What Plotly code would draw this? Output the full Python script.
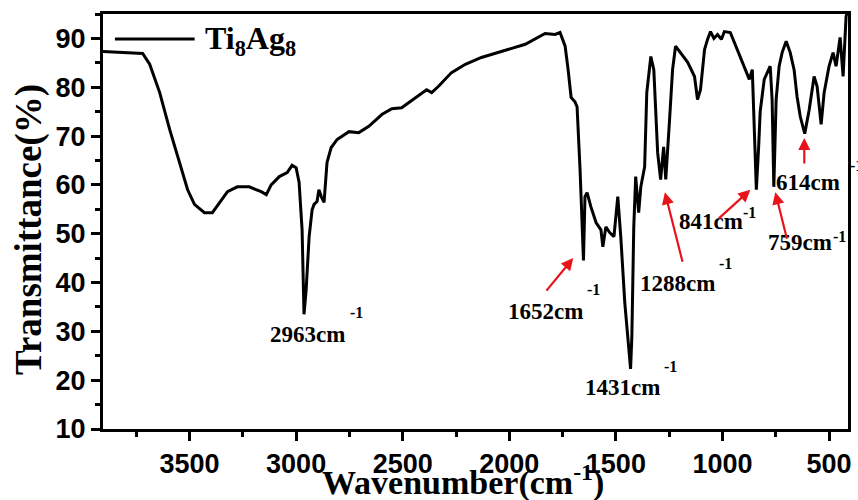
import plotly.graph_objects as go

# FTIR spectrum of Ti8Ag8
wavenumber = [3906, 3850, 3780, 3720, 3687, 3640, 3593, 3547, 3509, 3477, 3430, 3393, 3360, 3322,
              3276, 3220, 3164, 3140, 3117, 3079, 3042, 3019, 3000, 2986, 2972, 2963, 2953, 2939,
              2925, 2916, 2902, 2893, 2882, 2869, 2855, 2836, 2808, 2752, 2706, 2659, 2598, 2551,
              2505, 2439, 2388, 2364, 2332, 2271, 2206, 2131, 2037, 1925, 1832, 1785, 1762, 1738,
              1724, 1710, 1692, 1682, 1668, 1652, 1645, 1635, 1617, 1593, 1570, 1561, 1547, 1528,
              1509, 1491, 1477, 1458, 1431, 1425, 1416, 1407, 1393, 1383, 1365, 1355, 1336, 1322,
              1304, 1290, 1276, 1266, 1248, 1234, 1220, 1196, 1163, 1131, 1117, 1103, 1084, 1070,
              1056, 1040, 1023, 1005, 991, 963, 930, 897, 874, 860, 850, 841, 830, 823, 804, 790,
              776, 767, 759, 748, 734, 720, 701, 682, 664, 650, 635, 614, 593, 570, 556, 537, 523,
              500, 481, 467, 448, 434, 420, 411]
transmittance = [87.3, 87.2, 87.0, 86.9, 84.7, 78.9, 71.3, 64.6, 59.0, 56.0, 54.3, 54.3, 56.4, 58.6,
                 59.6, 59.6, 58.6, 58.0, 60.0, 61.7, 62.5, 64.0, 63.5, 60.5, 50.8, 33.5, 38.5, 49.4,
                 54.9, 56.0, 56.6, 59.0, 57.6, 56.4, 64.6, 67.6, 69.3, 70.9, 70.7, 72.0, 74.4, 75.6,
                 75.8, 77.9, 79.5, 78.9, 80.2, 83.0, 84.7, 86.1, 87.3, 88.8, 91.0, 90.8, 91.2, 88.4,
                 83.6, 77.9, 77.0, 76.0, 63.1, 44.5, 57.6, 58.4, 55.5, 52.3, 50.8, 47.3, 51.4, 50.2,
                 49.4, 57.6, 49.4, 35.8, 22.3, 28.9, 51.4, 61.7, 54.3, 59.6, 63.7, 78.9, 86.3, 83.6,
                 66.6, 61.1, 67.8, 61.1, 73.4, 83.6, 88.4, 87.1, 85.1, 82.2, 77.5, 79.5, 87.7, 89.8,
                 91.4, 90.0, 90.8, 89.8, 91.4, 91.2, 87.7, 84.3, 81.6, 83.6, 72.0, 59.0, 68.0, 75.0,
                 81.6, 83.0, 84.3, 77.5, 59.6, 77.5, 84.3, 87.1, 89.4, 87.1, 83.6, 78.1, 74.0, 70.5,
                 75.4, 82.2, 80.2, 72.4, 78.9, 84.3, 87.1, 84.3, 90.2, 82.2, 94.5, 96.0]

series_name = "Ti<sub>8</sub>Ag<sub>8</sub>"

# peak labels: (text, label x, label y, sup x, sup y)  (data coordinates)
peak_labels = [
    ("2963cm", 2948, 29.3, 2719, 33.8),
    ("1652cm", 1831, 34.0, 1607, 38.5),
    ("1431cm", 1467, 18.6, 1242, 22.7),
    ("1288cm", 1210, 39.9, 985, 44.0),
    ("841cm", 1055, 52.4, 873, 54.4),
    ("759cm", 635, 48.1, 453, 49.5),
    ("614cm", 598, 60.4, None, None),
]
# superscript of the 614 label sits just past the right frame (paper coords)
sup_614 = (1.0, 0.635)

# red arrows: (tip x, tip y, tail dx px, tail dy px)
peak_arrows = [
    (1700, 45.0, -28, 34),
    (1270, 58.5, 18, 71),
    (869, 59.0, -33, 30),
    (752, 58.5, 12, 48),
    (616, 69.6, 0, 27),
]

x_ticks = [3500, 3000, 2500, 2000, 1500, 1000, 500]
y_ticks = [10, 20, 30, 40, 50, 60, 70, 80, 90]

SERIF = "Liberation Serif"
SANS = "Liberation Sans"

fig = go.Figure()
fig.add_trace(go.Scatter(x=wavenumber, y=transmittance, mode="lines",
                         line=dict(color="black", width=3), name=series_name,
                         showlegend=False))

annotations = []
for txt, lx, ly, sx, sy in peak_labels:
    annotations.append(dict(x=lx, y=ly, xref="x", yref="y", text="<b>%s</b>" % txt,
                            showarrow=False, font=dict(family=SERIF, size=23, color="black"),
                            xanchor="center", yanchor="middle"))
    if sx is not None:
        annotations.append(dict(x=sx, y=sy, xref="x", yref="y", text="<b>-1</b>",
                                showarrow=False, font=dict(family=SERIF, size=16, color="black"),
                                xanchor="center", yanchor="middle"))
annotations.append(dict(x=sup_614[0], y=sup_614[1], xref="paper", yref="paper", text="<b>-1</b>",
                        showarrow=False, font=dict(family=SERIF, size=16, color="black"),
                        xanchor="left", yanchor="middle"))
for tx, ty, dx, dy in peak_arrows:
    annotations.append(dict(x=tx, y=ty, xref="x", yref="y", text="", showarrow=True,
                            ax=dx, ay=dy, axref="pixel", ayref="pixel",
                            arrowcolor="#e8141b", arrowwidth=2.2, arrowhead=2, arrowsize=1.1,
                            standoff=0, startstandoff=0))

# axis titles
annotations.append(dict(x=-0.099, y=0.48, xref="paper", yref="paper", text="<b>Transmittance(%)</b>",
                        textangle=-90, showarrow=False, font=dict(family=SERIF, size=37, color="black"),
                        xanchor="center", yanchor="middle"))
annotations.append(dict(x=0.483, y=-0.125, xref="paper", yref="paper",
                        text="<b>Wavenumber(cm<sup>-1</sup>)</b>",
                        showarrow=False, font=dict(family=SERIF, size=34, color="black"),
                        xanchor="center", yanchor="middle"))
# legend text
annotations.append(dict(x=0.134, y=0.935, xref="paper", yref="paper", text="<b>%s</b>" % series_name,
                        showarrow=False, font=dict(family=SERIF, size=32, color="black"),
                        xanchor="left", yanchor="middle"))

shapes = [dict(type="line", xref="paper", yref="paper", x0=0.016, x1=0.123, y0=0.94, y1=0.94,
               line=dict(color="black", width=3))]

fig.update_layout(
    width=858, height=500,
    margin=dict(l=103, r=7, t=14, b=71),
    paper_bgcolor="white", plot_bgcolor="white",
    annotations=annotations, shapes=shapes,
    xaxis=dict(range=[3906, 411], tickvals=x_ticks, ticks="outside", ticklen=9, tickwidth=3,
               tickcolor="black", showline=True, linecolor="black", linewidth=3, mirror=True,
               showgrid=False, zeroline=False,
               tickfont=dict(family=SANS, size=27, color="black", weight="bold"),
               minor=dict(dtick=250, tick0=0, ticks="outside", ticklen=5, tickwidth=3,
                          tickcolor="black", showgrid=False)),
    yaxis=dict(range=[10, 95], tickvals=y_ticks, ticks="outside", ticklen=9, tickwidth=3,
               tickcolor="black", showline=True, linecolor="black", linewidth=3, mirror=True,
               showgrid=False, zeroline=False,
               tickfont=dict(family=SANS, size=27, color="black", weight="bold"),
               minor=dict(dtick=5, tick0=0, ticks="outside", ticklen=5, tickwidth=3,
                          tickcolor="black", showgrid=False)),
)

fig.write_html("out.html")
